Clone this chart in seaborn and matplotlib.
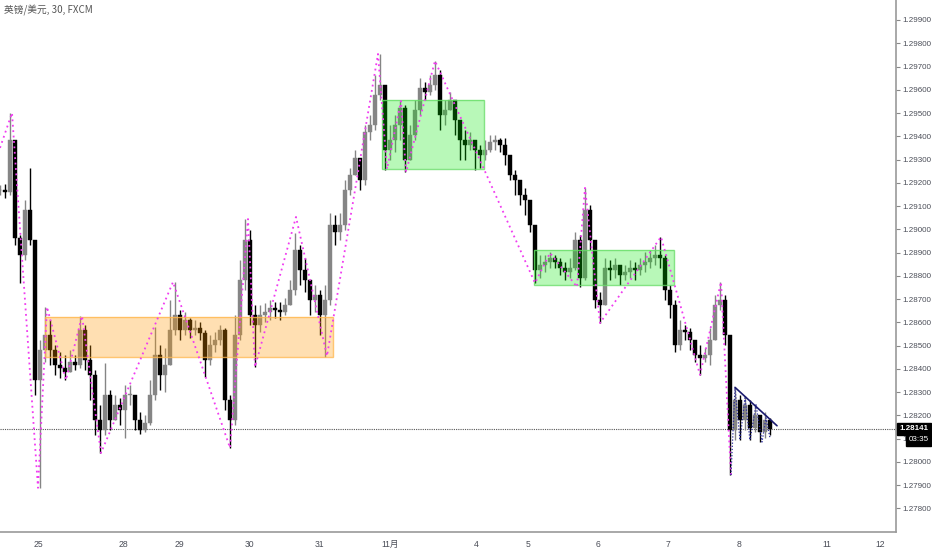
import numpy as np
import pandas as pd
import matplotlib
matplotlib.use("Agg")
import matplotlib.pyplot as plt
import seaborn as sns
from matplotlib.patches import Rectangle

# GBP/USD 30min, one candle here per ~5px of the original chart
close = [1.29169, 1.29160, 1.29384, 1.28963, 1.28890, 1.29083, 1.28954, 1.28352, 1.28481, 1.28545,
         1.28481, 1.28417, 1.28404, 1.28386, 1.28429, 1.28417, 1.28567, 1.28438, 1.28374, 1.28180,
         1.28137, 1.28288, 1.28180, 1.28245, 1.28223, 1.28288, 1.28288, 1.28180, 1.28137, 1.28167,
         1.28288, 1.28459, 1.28374, 1.28417, 1.28567, 1.28632, 1.28567, 1.28610, 1.28567, 1.28576,
         1.28554, 1.28438, 1.28503, 1.28524, 1.28567, 1.28266, 1.28180, 1.28545, 1.28782, 1.28954,
         1.28632, 1.28589, 1.28632, 1.28644, 1.28662, 1.28653, 1.28644, 1.28675, 1.28739, 1.28911,
         1.28825, 1.28782, 1.28696, 1.28718, 1.28632, 1.28696, 1.29019, 1.28988, 1.29019, 1.29169,
         1.29234, 1.29307, 1.29212, 1.29418, 1.29449, 1.29578, 1.29621, 1.29341, 1.29384, 1.29449,
         1.29522, 1.29298, 1.29406, 1.29513, 1.29608, 1.29590, 1.29621, 1.29664, 1.29492, 1.29513,
         1.29556, 1.29470, 1.29384, 1.29363, 1.29384, 1.29341, 1.29320, 1.29341, 1.29375, 1.29384,
         1.29363, 1.29320, 1.29234, 1.29212, 1.29148, 1.29126, 1.29019, 1.28825, 1.28847, 1.28859,
         1.28877, 1.28859, 1.28834, 1.28816, 1.28834, 1.28954, 1.28791, 1.29083, 1.28954, 1.28696,
         1.28675, 1.28834, 1.28825, 1.28847, 1.28804, 1.28816, 1.28834, 1.28825, 1.28847, 1.28859,
         1.28877, 1.28890, 1.28877, 1.28739, 1.28675, 1.28503, 1.28567, 1.28558, 1.28524, 1.28459,
         1.28447, 1.28459, 1.28524, 1.28675, 1.28696, 1.28545, 1.28137, 1.28266, 1.28180, 1.28245,
         1.28146, 1.28202, 1.28128, 1.28180, 1.28141]
high = [1.29191, 1.29195, 1.29500, 1.29384, 1.28976, 1.29126, 1.29264, 1.28954, 1.28524, 1.28666,
        1.28610, 1.28503, 1.28472, 1.28459, 1.28481, 1.28459, 1.28627, 1.28589, 1.28503, 1.28395,
        1.28245, 1.28425, 1.28309, 1.28288, 1.28275, 1.28331, 1.28331, 1.28288, 1.28214, 1.28202,
        1.28352, 1.28580, 1.28503, 1.28490, 1.28696, 1.28773, 1.28653, 1.28644, 1.28619, 1.28610,
        1.28601, 1.28567, 1.28545, 1.28558, 1.28589, 1.28576, 1.28288, 1.28632, 1.28868, 1.29044,
        1.28997, 1.28675, 1.28675, 1.28683, 1.28696, 1.28687, 1.28687, 1.28705, 1.28782, 1.28984,
        1.28933, 1.28877, 1.28782, 1.28761, 1.28739, 1.28761, 1.29070, 1.29062, 1.29070, 1.29212,
        1.29264, 1.29341, 1.29298, 1.29449, 1.29492, 1.29664, 1.29754, 1.29621, 1.29449, 1.29492,
        1.29552, 1.29535, 1.29449, 1.29556, 1.29651, 1.29633, 1.29664, 1.29724, 1.29685, 1.29556,
        1.29590, 1.29556, 1.29449, 1.29427, 1.29418, 1.29384, 1.29363, 1.29384, 1.29406, 1.29406,
        1.29393, 1.29393, 1.29320, 1.29255, 1.29212, 1.29178, 1.29126, 1.29019, 1.28890, 1.28890,
        1.28902, 1.28890, 1.28877, 1.28859, 1.28877, 1.28988, 1.28976, 1.29178, 1.29105, 1.28954,
        1.28730, 1.28877, 1.28868, 1.28877, 1.28847, 1.28847, 1.28868, 1.28859, 1.28877, 1.28902,
        1.28911, 1.28933, 1.28967, 1.28890, 1.28761, 1.28696, 1.28610, 1.28589, 1.28576, 1.28524,
        1.28503, 1.28490, 1.28576, 1.28718, 1.28773, 1.28718, 1.28545, 1.28322, 1.28288, 1.28283,
        1.28266, 1.28245, 1.28202, 1.28214, 1.28189]
low = [1.29148, 1.29135, 1.29148, 1.28933, 1.28769, 1.28868, 1.28933, 1.28288, 1.27888, 1.28429,
       1.28417, 1.28374, 1.28361, 1.28352, 1.28386, 1.28395, 1.28404, 1.28395, 1.28266, 1.28116,
       1.28038, 1.28116, 1.28137, 1.28180, 1.28159, 1.28103, 1.28245, 1.28137, 1.28120, 1.28128,
       1.28159, 1.28266, 1.28309, 1.28300, 1.28438, 1.28545, 1.28524, 1.28545, 1.28533, 1.28545,
       1.28524, 1.28365, 1.28417, 1.28472, 1.28503, 1.28223, 1.28060, 1.28159, 1.28524, 1.28739,
       1.28589, 1.28408, 1.28558, 1.28601, 1.28610, 1.28619, 1.28610, 1.28632, 1.28675, 1.28718,
       1.28761, 1.28730, 1.28632, 1.28644, 1.28545, 1.28451, 1.28675, 1.28933, 1.28954, 1.28997,
       1.29148, 1.29255, 1.29169, 1.29191, 1.29384, 1.29427, 1.29556, 1.29255, 1.29298, 1.29332,
       1.29384, 1.29246, 1.29298, 1.29384, 1.29492, 1.29556, 1.29578, 1.29599, 1.29427, 1.29449,
       1.29513, 1.29406, 1.29298, 1.29298, 1.29341, 1.29255, 1.29264, 1.29298, 1.29332, 1.29341,
       1.29332, 1.29277, 1.29212, 1.29148, 1.29105, 1.29062, 1.28988, 1.28769, 1.28791, 1.28816,
       1.28834, 1.28834, 1.28804, 1.28782, 1.28791, 1.28825, 1.28752, 1.28782, 1.28911, 1.28662,
       1.28597, 1.28675, 1.28782, 1.28791, 1.28761, 1.28782, 1.28791, 1.28782, 1.28804, 1.28816,
       1.28834, 1.28847, 1.28834, 1.28696, 1.28619, 1.28472, 1.28481, 1.28524, 1.28481, 1.28429,
       1.28374, 1.28429, 1.28417, 1.28524, 1.28653, 1.28503, 1.27943, 1.28094, 1.28094, 1.28137,
       1.28094, 1.28128, 1.28085, 1.28103, 1.28116]

# zigzag (pink dotted), bar index / price
zz_x = [0, 2.4, 7.6, 9.4, 13.2, 16.4, 20.2, 34.6, 46.0, 49.6, 51.0, 59.2, 65.4, 75.6, 77.4,
        80.2, 81.2, 87.0, 96.6, 107.0, 110.0, 115.4, 117.0, 120.0, 132.2, 140.0, 144.2, 146.2]
zz_y = [1.29350, 1.29500, 1.27888, 1.28666, 1.28352, 1.28627, 1.28038, 1.28773, 1.28060, 1.29044,
        1.28408, 1.29053, 1.28455, 1.29754, 1.29259, 1.29552, 1.29246, 1.29724, 1.29268, 1.28769,
        1.28898, 1.28752, 1.29178, 1.28597, 1.28967, 1.28374, 1.28773, 1.27943]

# small navy zigzag inside the last triangle
sz_x = [146.2, 147.0, 148.0, 149.0, 150.0, 151.2, 152.4, 153.2, 154.0]
sz_y = [1.27943, 1.28318, 1.28094, 1.28275, 1.28094, 1.28245, 1.28085, 1.28189, 1.28103]

# trend line of the triangle
tl_x = [147.0, 155.4]
tl_y = [1.28320, 1.28155]

# zones: (x0, x1, price_low, price_high)
orange_zone = (9.0, 66.6, 1.28451, 1.28623)
green_zones = [(76.4, 96.8, 1.29259, 1.29556), (106.8, 134.8, 1.28760, 1.28911)]

last_price = 1.28141
countdown = "03:35"

day_labels = ["25", "28", "29", "30", "31", "11月", "4", "5", "6", "7", "8", "11", "12"]
day_pos = [7.66, 24.66, 35.86, 49.86, 63.9, 78.0, 95.2, 105.6, 119.6, 133.6, 147.8, 165.4, 176.0]
price_ticks = [1.278 + 0.001 * k for k in range(22)]

sns.set_style("white")
plt.rcParams["font.family"] = ["Noto Sans CJK SC", "DejaVu Sans"]
small = ["Liberation Sans", "DejaVu Sans"]

df = pd.DataFrame({"close": close, "high": high, "low": low})
df["open"] = df["close"].shift(1).fillna(df["close"].iloc[0])
df["x"] = np.arange(len(df))
df["high"] = df[["high", "open", "close"]].max(axis=1)
df["low"] = df[["low", "open", "close"]].min(axis=1)
up = df["close"] >= df["open"]
colors = np.where(up, "#858585", "#000000")

fig = plt.figure(figsize=(9.32, 5.5), dpi=100)
ax = fig.add_axes([0, 18 / 550, 896 / 932, 532 / 550])

ax.vlines(df["x"], df["low"], df["high"], colors=colors, lw=1.0, zorder=2)
body = (df["close"] - df["open"]).where((df["close"] - df["open"]).abs() > 0.00002, 0.00002)
ax.bar(df["x"], body, bottom=df["open"], width=0.75, color=colors, edgecolor=colors, lw=0.3, zorder=3)

x0, x1, p0, p1 = orange_zone
ax.add_patch(Rectangle((x0, p0), x1 - x0, p1 - p0, facecolor="#ff9800", alpha=0.3,
                       edgecolor="none", zorder=4))
ax.add_patch(Rectangle((x0, p0), x1 - x0, p1 - p0, facecolor="none",
                       edgecolor="#ffb74d", lw=1, alpha=0.8, zorder=4))
for gx0, gx1, gp0, gp1 in green_zones:
    ax.add_patch(Rectangle((gx0, gp0), gx1 - gx0, gp1 - gp0, facecolor="#00e600", alpha=0.28,
                           edgecolor="none", zorder=4))
    ax.add_patch(Rectangle((gx0, gp0), gx1 - gx0, gp1 - gp0, facecolor="none",
                           edgecolor="#66dd66", lw=1, alpha=0.8, zorder=4))

sns.lineplot(x=zz_x, y=zz_y, ax=ax, color="#f03cf0", linestyle=(0, (1, 2)), lw=1.3,
             sort=False, zorder=5)
sns.lineplot(x=sz_x, y=sz_y, ax=ax, color="#2a2a9a", linestyle=(0, (1, 1.5)), lw=0.9,
             sort=False, zorder=5)
sns.lineplot(x=tl_x, y=tl_y, ax=ax, color="#1a1a6e", lw=1.2, sort=False, zorder=6)

ax.axhline(last_price, color="#555555", lw=0.8, linestyle=(0, (1, 1)), zorder=1)

ax.set_xlim(0, 179.2)
ax.set_ylim(1.27698, 1.29986)
ax.set_xticks(day_pos)
ax.set_xticklabels(day_labels)
ax.set_yticks(price_ticks)
ax.set_yticklabels([f"{p:.5f}" for p in price_ticks])
ax.yaxis.tick_right()
ax.tick_params(axis="y", direction="out", length=3, width=0.8, colors="#888888",
               labelcolor="#4a4d57", labelsize=5.8, pad=1.5)
ax.tick_params(axis="x", direction="out", length=3, width=0.8, colors="#888888",
               labelcolor="#4a4d57", labelsize=6.2, pad=3)
for lab in ax.get_yticklabels():
    lab.set_family(small)
for lab in ax.get_xticklabels():
    lab.set_family(["Liberation Sans", "Noto Sans CJK SC", "DejaVu Sans"])
for s in ["left", "top"]:
    ax.spines[s].set_visible(False)
for s in ["right", "bottom"]:
    ax.spines[s].set_color("#9a9a9a")
    ax.spines[s].set_linewidth(1.2)
ax.set_xlabel("")
ax.set_ylabel("")
ax.grid(False)

ax.annotate(f"{last_price:.5f}", xy=(1.0, last_price), xycoords=("axes fraction", "data"),
            xytext=(2.5, 0), textcoords="offset points", ha="left", va="center",
            fontsize=5.8, color="white", fontweight="bold", family=small,
            bbox=dict(boxstyle="square,pad=0.3", fc="black", ec="black"),
            annotation_clip=False, zorder=10)
ax.annotate(countdown, xy=(1.0, last_price - 0.00047), xycoords=("axes fraction", "data"),
            xytext=(9, 0), textcoords="offset points", ha="left", va="center",
            fontsize=5.8, color="white", family=small,
            bbox=dict(boxstyle="square,pad=0.3", fc="black", ec="black"),
            annotation_clip=False, zorder=10)

fig.text(4 / 932, 1 - 10 / 550, "英镑/美元, 30, FXCM", fontsize=7, color="#555555",
         ha="left", va="center")

fig.savefig("out.png", dpi=100)
